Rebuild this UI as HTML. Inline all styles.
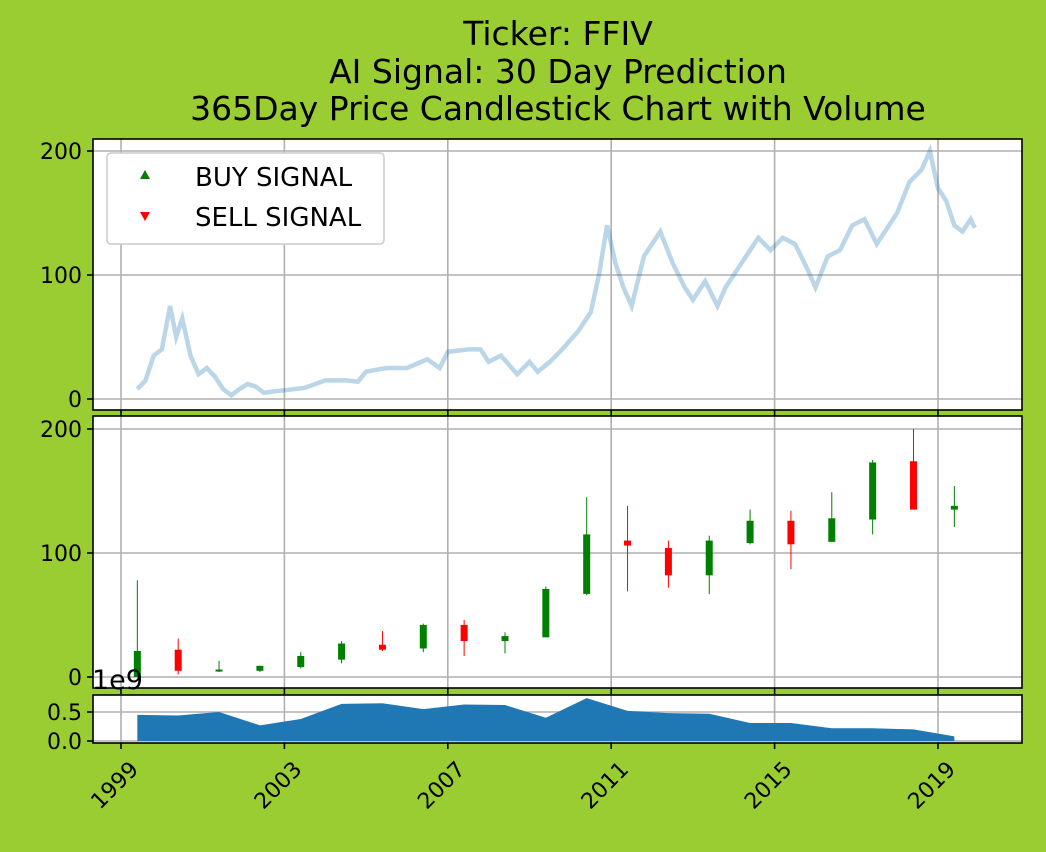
<!DOCTYPE html>
<html><head><meta charset="utf-8"><style>
body{margin:0;background:#9acd32;}
svg{display:block;font-family:"DejaVu Sans","Liberation Sans",sans-serif;}
</style></head><body>
<svg id="c" width="1046" height="852">
<rect width="1046" height="852" fill="#9acd32"/>
<text x="558" y="45" font-size="33" text-anchor="middle">Ticker: FFIV</text>
<text x="558" y="83" font-size="33" text-anchor="middle">AI Signal: 30 Day Prediction</text>
<text x="558" y="120" font-size="33" text-anchor="middle">365Day Price Candlestick Chart with Volume</text>
<g id="g"></g>
</svg>
<script>
const lineT=[1999.4,1999.6,1999.8,2000.0,2000.2,2000.35,2000.5,2000.7,2000.9,2001.1,2001.3,2001.5,2001.7,2001.9,2002.1,2002.3,2002.5,2002.7,2003.0,2003.5,2004.0,2004.5,2004.8,2005.0,2005.5,2006.0,2006.5,2006.8,2007.0,2007.5,2007.8,2008.0,2008.3,2008.7,2009.0,2009.2,2009.5,2009.8,2010.2,2010.5,2010.7,2010.9,2011.1,2011.3,2011.5,2011.8,2012.0,2012.2,2012.5,2012.8,2013.0,2013.3,2013.6,2013.8,2014.0,2014.3,2014.6,2014.9,2015.2,2015.5,2015.8,2016.0,2016.3,2016.6,2016.9,2017.2,2017.5,2017.8,2018.0,2018.3,2018.6,2018.8,2019.0,2019.2,2019.4,2019.6,2019.8,2019.9];
const lineV=[8,15,35,40,75,50,65,35,20,25,18,8,3,8,12,10,5,6,7,9,15,15,14,22,25,25,32,25,38,40,40,30,35,20,30,22,30,40,55,70,100,140,110,90,75,115,125,135,110,90,80,95,75,90,100,115,130,120,130,125,105,90,115,120,140,145,125,140,150,175,185,200,170,160,140,135,145,138];
const cT=[1999.4,2000.4,2001.4,2002.4,2003.4,2004.4,2005.4,2006.4,2007.4,2008.4,2009.4,2010.4,2011.4,2012.4,2013.4,2014.4,2015.4,2016.4,2017.4,2018.4,2019.4];
const cOpen=[0,22,5,5,8,14,26,23,42,29,32,67,110,104,82,108,126,109,127,174,135];
const cClose=[21,5,6,9,17,27,22,42,29,33,71,115,106,82,110,126,107,128,173,135,138];
const cHigh=[78,31,13,9,20,29,37,43,46,36,73,145,138,110,114,135,134,149,175,200,154];
const cLow=[0,2,4,4,7,11,21,20,17,19,32,66,69,72,67,107,87,109,115,135,121];
const vol=[0.45,0.44,0.5,0.27,0.38,0.64,0.65,0.55,0.63,0.62,0.4,0.74,0.52,0.48,0.47,0.31,0.31,0.22,0.22,0.2,0.08];
const xTicks=[1999,2003,2007,2011,2015,2019];
const yTicks=[0,100,200];
const vTicks=[0.0,0.5];

const NS="http://www.w3.org/2000/svg",g=document.getElementById('g');
const X=t=>121+(t-1999)*40.85;
const Y1=v=>399-v*1.24, Y2=v=>677-v*1.24, Y3=v=>741-v*58;
const P=[[93,139,410],[93,416,688],[93,695,743]];
function el(tag,a,parent){const e=document.createElementNS(NS,tag);for(const k in a)e.setAttribute(k,a[k]);(parent||g).appendChild(e);return e;}
P.forEach((p,i)=>{const r=el('rect',{x:p[0],y:p[1],width:929,height:p[2]-p[1],fill:'#fff'});

});
P.forEach((p,i)=>{xTicks.forEach(t=>{const l=el('line',{x1:X(t),x2:X(t),y1:p[1],y2:p[2],stroke:'#b0b0b0','stroke-width':1.6});

});});
[[Y1,0],[Y2,1]].forEach(([f,i])=>yTicks.forEach(v=>{const l=el('line',{x1:93,x2:1022,y1:f(v),y2:f(v),stroke:'#b0b0b0','stroke-width':1.6});


el('line',{x1:87,x2:93,y1:f(v),y2:f(v),stroke:'#000','stroke-width':1.6});
const tx=el('text',{x:82,y:f(v)+8,'font-size':22,'text-anchor':'end'});tx.textContent=v;

}));
vTicks.forEach(v=>{const l=el('line',{x1:93,x2:1022,y1:Y3(v),y2:Y3(v),stroke:'#b0b0b0','stroke-width':1.6});


el('line',{x1:87,x2:93,y1:Y3(v),y2:Y3(v),stroke:'#000','stroke-width':1.6});
const tx=el('text',{x:82,y:Y3(v)+8,'font-size':22,'text-anchor':'end'});tx.textContent=v.toFixed(1);

});
const pl=el('polyline',{points:lineT.map((t,i)=>X(t)+','+Y1(lineV[i])).join(' '),fill:'none',stroke:'#1f77b4','stroke-opacity':0.3,'stroke-width':4.5});


cT.forEach((t,i)=>{const up=cClose[i]>=cOpen[i],c=up?'#008000':'#ff0000';
const w=el('line',{x1:X(t),x2:X(t),y1:Y2(cHigh[i]),y2:Y2(cLow[i]),stroke:c,'stroke-width':1});


const top=Y2(Math.max(cOpen[i],cClose[i])),bot=Y2(Math.min(cOpen[i],cClose[i]));
const b=el('rect',{x:X(t)-3.5,y:top,width:7,height:Math.max(bot-top,2),fill:c});

});
let d='M'+X(cT[0])+','+Y3(0);cT.forEach((t,i)=>d+=' L'+X(t)+','+Y3(vol[i]));d+=' L'+X(cT[cT.length-1])+','+Y3(0)+'Z';
const va=el('path',{d:d,fill:'#1f77b4'});


P.forEach((p,i)=>{const r=el('rect',{x:p[0],y:p[1],width:929,height:p[2]-p[1],fill:'none',stroke:'#000','stroke-width':1.6});


xTicks.forEach(t=>el('line',{x1:X(t),x2:X(t),y1:p[2],y2:p[2]+6,stroke:'#000','stroke-width':1.6}));});
xTicks.forEach(t=>{const tx=el('text',{'font-size':22,'text-anchor':'end',transform:`translate(${X(t)+8},${760}) rotate(-45)`});
tx.setAttribute('x',0);tx.setAttribute('y',15);tx.textContent=t;

});
const e9=el('text',{x:92,y:689,'font-size':27});e9.textContent='1e9';


const lg=el('g',{});


el('rect',{x:107,y:153,width:277,height:91,rx:4,fill:'#fff',stroke:'#ccc','stroke-width':1.5},lg);
el('path',{d:'M145,170 l5,9 h-10z',fill:'#008000'},lg);
el('path',{d:'M140,212 h10 l-5,9z',fill:'#ff0000'},lg);
const l1=el('text',{x:195,y:186,'font-size':26},lg);l1.textContent='BUY SIGNAL';


const l2=el('text',{x:195,y:226,'font-size':26},lg);l2.textContent='SELL SIGNAL';


</script>
</body></html>
